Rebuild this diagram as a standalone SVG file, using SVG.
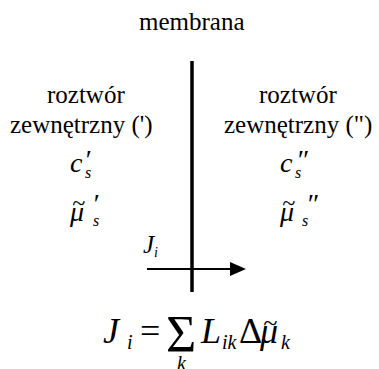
<svg xmlns="http://www.w3.org/2000/svg" width="379" height="369" viewBox="0 0 379 369">
<style>
.w{font-family:'Liberation Serif',serif;font-size:25px}
.t{font-family:'Liberation Serif',serif}
.m{font-style:italic}
.big{font-size:28px}
.sub{font-size:16px}
.eq{font-size:36px}
.eqs{font-size:20px}
.conn{stroke:black;fill:none}
</style>
<g id="membrana-label">
<text class="w" x="139" y="30">membrana</text>
</g>
<g id="connectors">
<line class="conn" x1="192" y1="61" x2="192" y2="292" stroke-width="3.5"/>
<line class="conn" x1="147" y1="269" x2="231" y2="269" stroke-width="2"/>
<polygon points="230,262 246,269 230,276" fill="black"/>
</g>
<g id="left-solution">
<text class="w" x="47" y="103">roztwór</text>
<text class="w" x="10" y="133">zewnętrzny (&apos;)</text>
<text class="t m big" x="70" y="172">c</text>
<text class="t m big" x="84" y="169">′</text>
<text class="t m sub" x="85" y="178">s</text>
<text class="t m" x="72" y="211" font-size="24">~</text>
<text class="t m big" x="70" y="221">μ</text>
<text class="t m big" x="92" y="213">′</text>
<text class="t m sub" x="93" y="226">s</text>
</g>
<g id="right-solution">
<text class="w" x="259" y="103">roztwór</text>
<text class="w" x="224" y="133">zewnętrzny (&quot;)</text>
<text class="t m big" x="280" y="172">c</text>
<text class="t m big" x="296" y="169">″</text>
<text class="t m sub" x="295" y="178">s</text>
<text class="t m" x="282" y="211" font-size="24">~</text>
<text class="t m big" x="280" y="221">μ</text>
<text class="t m big" x="306" y="213">″</text>
<text class="t m sub" x="302" y="226">s</text>
</g>
<g id="flux-label">
<text class="t m" x="143" y="253" font-size="25">J</text>
<text class="t m" x="154" y="257" font-size="14">i</text>
</g>
<g id="equation">
<text class="t m eq" x="103" y="343">J</text>
<text class="t m eqs" x="127" y="349">i</text>
<text class="t eq" x="140" y="343">=</text>
<text class="t" x="166" y="352" font-size="52">Σ</text>
<text class="t m eqs" x="177" y="370">k</text>
<text class="t m eq" x="201" y="343">L</text>
<text class="t m eqs" x="222" y="349">ik</text>
<text class="t eq" x="239" y="343">Δ</text>
<text class="t m" x="263" y="331" font-size="26">~</text>
<text class="t m eq" x="260" y="343">μ</text>
<text class="t m eqs" x="281" y="349">k</text>
</g>
</svg>
